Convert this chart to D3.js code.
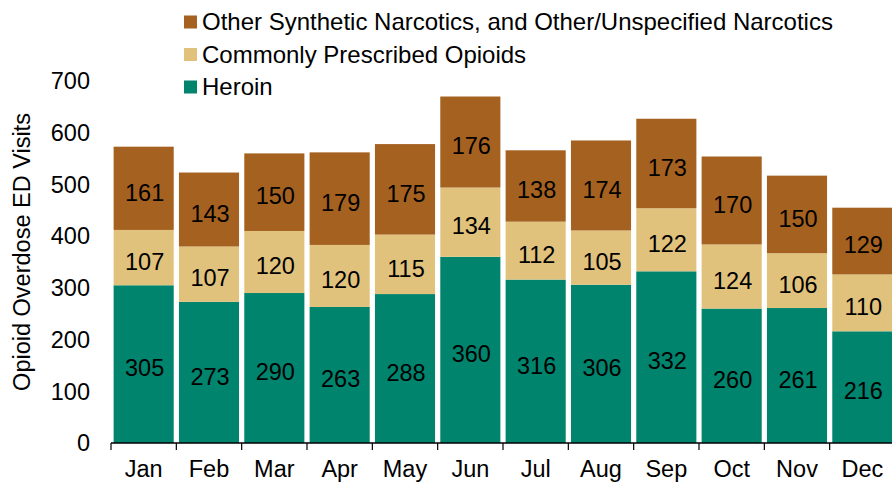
<!DOCTYPE html>
<html>
<head>
<meta charset="utf-8">
<style>
  body { margin: 0; background: #fff; }
  svg text { font-family: "Liberation Sans", Arial, sans-serif; fill: #000; }
</style>
</head>
<body>
<div id="chart"></div>
<script src="https://cdn.jsdelivr.net/npm/d3@7/dist/d3.min.js"></script>
<script>
var months = ['Jan','Feb','Mar','Apr','May','Jun','Jul','Aug','Sep','Oct','Nov','Dec'];
var heroin = [305,273,290,263,288,360,316,306,332,260,261,216];
var prescribed = [107,107,120,120,115,134,112,105,122,124,106,110];
var other = [161,143,150,179,175,176,138,174,173,170,150,129];
var seriesNames = ['Heroin','Commonly Prescribed Opioids','Other Synthetic Narcotics, and Other/Unspecified Narcotics'];
var seriesKeys = ['heroin','prescribed','other'];
var colors = ['#00846e','#e0c27d','#a5611f'];
var yTicks = [0,100,200,300,400,500,600,700];

var W = 892, H = 482;
var svg = d3.select('#chart').append('svg').attr('width', W).attr('height', H);

var rows = months.map(function(m, i){
  return { month: m, heroin: heroin[i], prescribed: prescribed[i], other: other[i] };
});
var stacked = d3.stack().keys(seriesKeys)(rows);

var x = d3.scaleBand().domain(months).range([111, 895]).paddingInner(0.08).paddingOuter(0.04);
var y = d3.scaleLinear().domain([0, 700]).range([443, 81]);

// y tick labels
svg.append('g').selectAll('text').data(yTicks).enter().append('text')
  .attr('x', 90).attr('y', function(d){ return y(d); })
  .attr('dy', '0.35em').attr('text-anchor', 'end')
  .style('font-size', '23.5px').text(function(d){ return d; });

// y title
svg.append('text')
  .attr('transform', 'translate(30,252) rotate(-90)')
  .attr('text-anchor', 'middle')
  .style('font-size', '23.5px')
  .text('Opioid Overdose ED Visits');

// bars
var layers = svg.append('g').selectAll('g').data(stacked).enter().append('g')
  .attr('fill', function(d, i){ return colors[i]; });
layers.selectAll('rect').data(function(d){ return d; }).enter().append('rect')
  .attr('x', function(d){ return x(d.data.month); })
  .attr('width', x.bandwidth())
  .attr('y', function(d){ return y(d[1]); })
  .attr('height', function(d){ return y(d[0]) - y(d[1]); });

// segment labels
layers.selectAll('text').data(function(d){ return d; }).enter().append('text')
  .attr('x', function(d){ return x(d.data.month) + x.bandwidth() / 2 + 1; })
  .attr('y', function(d){ return (y(d[0]) + y(d[1])) / 2 + 4; })
  .attr('dy', '0.35em').attr('text-anchor', 'middle')
  .style('font-size', '23.5px')
  .text(function(d){ return d[1] - d[0]; });

// x axis
var xAxis = svg.append('g').attr('transform', 'translate(0,' + y(0) + ')');
xAxis.append('line').attr('x1', 111).attr('x2', W).attr('y1', 0).attr('y2', 0)
  .attr('stroke', '#000').attr('stroke-width', 1.5);
var bounds = months.map(function(m){ return x(m) - x.step() * x.paddingInner() / 2; });
xAxis.selectAll('.tk').data(bounds).enter().append('line')
  .attr('x1', function(d){ return d; }).attr('x2', function(d){ return d; })
  .attr('y1', 0).attr('y2', 7).attr('stroke', '#000').attr('stroke-width', 1.2);
xAxis.selectAll('.ml').data(months).enter().append('text')
  .attr('x', function(d){ return x(d) + x.bandwidth() / 2; })
  .attr('y', 34).attr('text-anchor', 'middle')
  .style('font-size', '23.5px').text(function(d){ return d; });

// legend (top-down: Other, Prescribed, Heroin)
var legendOrder = [2, 1, 0];
var lg = svg.append('g').selectAll('g').data(legendOrder).enter().append('g')
  .attr('transform', function(d, i){ return 'translate(184,' + (22 + i * 32.5) + ')'; });
lg.append('rect').attr('x', 0).attr('y', -6.5).attr('width', 13).attr('height', 13)
  .attr('fill', function(d){ return colors[d]; });
lg.append('text').attr('x', 18).attr('y', 0).attr('dy', '0.35em')
  .style('font-size', '24px').text(function(d){ return seriesNames[d]; });
</script>
</body>
</html>
